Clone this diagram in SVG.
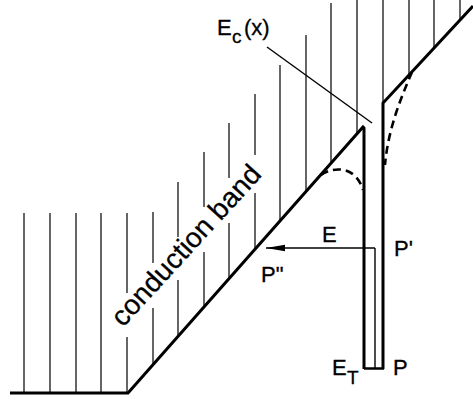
<svg xmlns="http://www.w3.org/2000/svg" width="473" height="402" viewBox="0 0 473 402">
<style>
.hatch{stroke:#000;stroke-width:1.2;fill:none}
.thick{stroke:#000;stroke-width:3;fill:none;stroke-linejoin:miter}
.thin{stroke:#000;stroke-width:1.4;fill:none}
.dash{stroke:#000;stroke-width:2.6;fill:none;stroke-dasharray:8 5}
text{font-family:"Liberation Sans",Arial,sans-serif;fill:#000;stroke:#000;stroke-width:0.3}
.lbl{font-size:22px}
.sub{font-size:19px}
</style>
<defs>
<marker id="ah" markerWidth="19" markerHeight="8" refX="19" refY="4" orient="auto" markerUnits="userSpaceOnUse">
<path d="M0,0.8 L19,4 L0,7.2 Z" fill="#000"/>
</marker>
</defs>
<rect width="473" height="402" fill="#fff"/>
<g id="hatching">
<path class="hatch" d="M24,213V393 M50,213V393 M76,213V393 M101,213V393 M127,213V293 M127,337V393 M153,212V263 M153,308V365 M178,182V237 M178,280V336 M204,152V207 M204,252V307 M229,123V178 M229,223V279 M255,94V155 M255,193V249 M280,65V221 M306,35V192 M331,3V163 M357,0V134 M383,0V103 M409,0V75 M434,0V48 M460,0V20"/>
</g>
<g id="conduction-band">
<path class="thick" d="M10,393 H128 L363,127 L364,128 V369"/>
<text transform="translate(123,328) rotate(-47.5)" font-size="28" textLength="207" lengthAdjust="spacing">conduction band</text>
</g>
<g id="right-band">
<path class="thick" d="M473,6 L383,103 V369"/>
</g>
<g id="trap">
<path class="thick" d="M364,368.5 H384" style="stroke-width:2.5"/>
<path class="thin" d="M375,368 V248"/>
</g>
<g id="connectors">
<path class="thin" d="M375,248 H266" marker-end="url(#ah)"/>
<path class="thin" d="M267,47 L372,123"/>
<path class="dash" d="M321,175 C334,166 356,166 363,190"/>
<path class="dash" d="M412,72 C400,100 388,130 385,165"/>
</g>
<g id="labels">
<text class="lbl" x="217" y="35">E</text>
<text class="sub" x="232" y="43">c</text>
<text class="lbl" x="244" y="35">(x)</text>
<text class="lbl" x="322" y="242">E</text>
<text class="lbl" x="394" y="256">P'</text>
<text class="lbl" x="261" y="282">P"</text>
<text class="lbl" x="332" y="375">E</text>
<text class="sub" x="347" y="384">T</text>
<text class="lbl" x="393" y="375">P</text>
</g>
</svg>
